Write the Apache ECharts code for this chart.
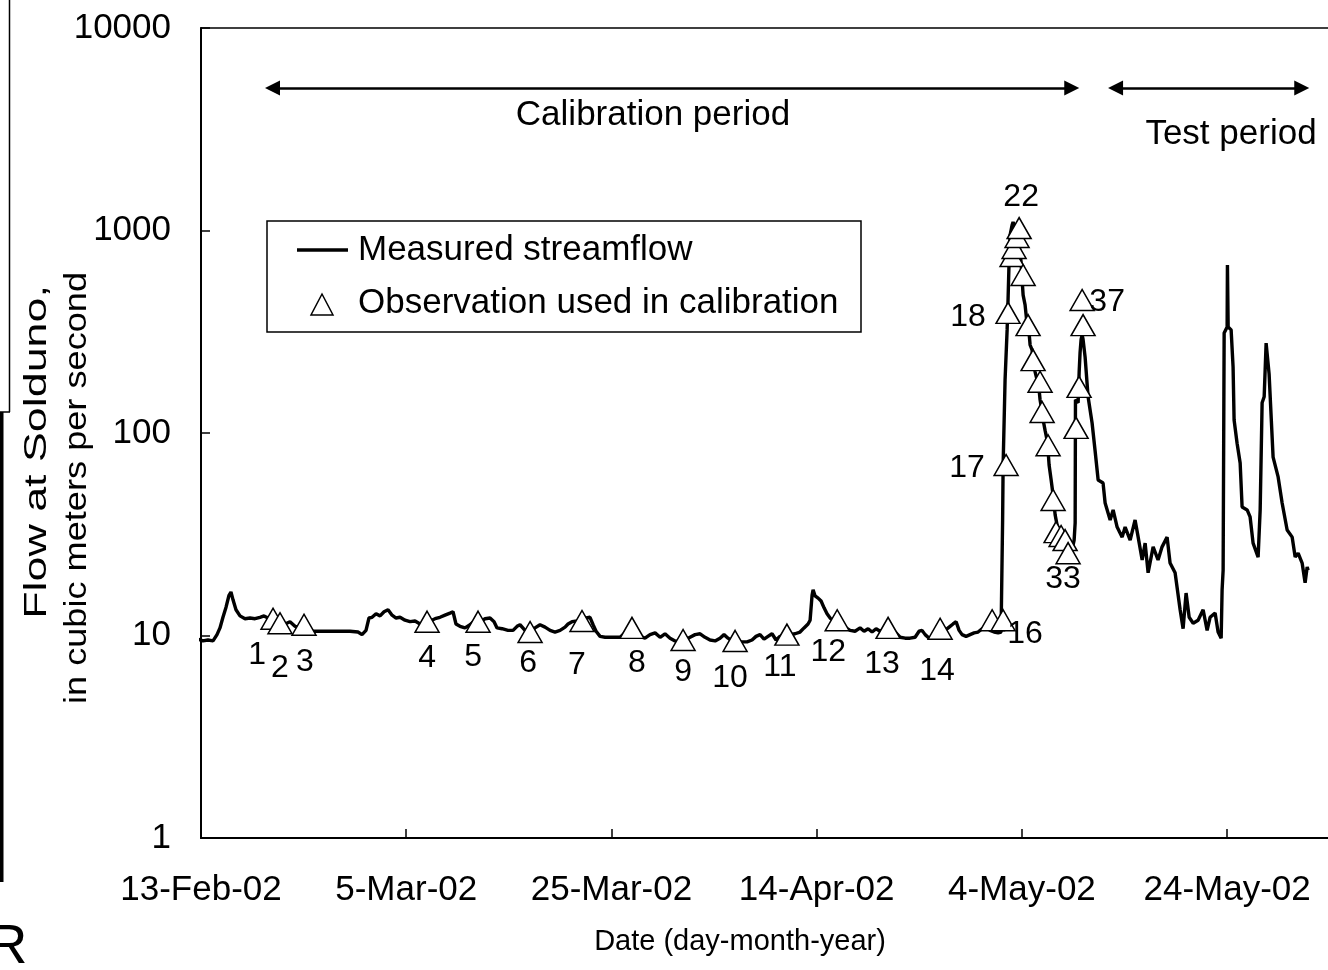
<!DOCTYPE html>
<html>
<head>
<meta charset="utf-8">
<script src="https://cdn.jsdelivr.net/npm/echarts@6.0.0/dist/echarts.min.js"></script>
<style>
  html, body { margin: 0; padding: 0; background: #fff; }
  #main { width: 1328px; height: 970px; }
</style>
</head>
<body>
<div id="main"></div>
<script>
// days since 13-Feb-02, flow in m3/s
var flowData = [
  [-1.27,9.7],[-0.78,9.5],[-0.29,9.6],[0.19,9.4],[0.68,9.5],[1.17,9.4],[1.56,10.1],[1.85,10.9],[2.14,12.3],[2.44,13.8],
  [2.73,15.8],[2.92,16.4],[3.12,15.0],[3.41,13.4],[3.80,12.5],[4.29,12.1],[4.78,12.2],[5.26,12.1],[5.75,12.3],[6.14,12.5],
  [6.53,12.2],[6.92,12.3],[7.31,11.9],[7.70,11.7],[8.19,11.4],[8.67,11.7],[9.16,11.1],[9.65,11.0],[10.14,10.8],[10.62,10.5],
  [12.57,10.5],[14.52,10.5],[15.30,10.4],[15.69,10.1],[16.08,10.6],[16.37,12.2],[16.67,12.3],[17.06,12.8],[17.45,12.5],[17.84,13.1],
  [18.23,13.4],[18.62,12.6],[19.01,12.2],[19.40,12.3],[19.88,11.9],[20.37,11.7],[20.86,11.8],[21.35,11.4],[21.83,11.7],[22.32,11.8],
  [22.81,12.1],[23.29,12.3],[23.78,12.6],[24.27,12.9],[24.56,13.1],[24.85,11.4],[25.24,11.1],[25.73,10.9],[26.22,11.3],[26.71,11.9],
  [27.19,11.7],[27.68,12.1],[28.17,12.2],[28.56,11.7],[28.85,10.9],[29.34,10.8],[29.92,10.6],[30.41,10.6],[30.80,11.1],[31.09,11.3],
  [31.58,10.6],[32.07,10.4],[32.55,10.9],[33.04,11.3],[33.53,11.0],[34.02,10.6],[34.50,10.4],[34.99,10.6],[35.48,11.0],[35.77,11.4],
  [36.16,11.7],[36.65,11.8],[37.13,11.9],[37.52,12.2],[37.91,12.3],[38.21,11.3],[38.50,10.5],[38.89,9.9],[39.38,9.8],[39.86,9.8],
  [40.35,9.8],[40.84,9.8],[41.33,10.3],[41.81,10.8],[42.30,10.5],[42.79,9.9],[43.27,9.7],[43.76,10.1],[44.25,10.3],[44.74,9.8],
  [45.22,10.2],[45.71,9.7],[46.20,9.4],[46.69,9.3],[47.17,9.5],[47.66,9.8],[48.15,10.1],[48.64,10.2],[49.12,9.8],[49.61,9.5],
  [50.10,9.4],[50.58,9.7],[50.97,10.1],[51.36,9.7],[51.75,9.4],[52.24,9.3],[52.73,9.3],[53.22,9.3],[53.70,9.5],[54.09,9.9],
  [54.48,10.1],[54.87,9.6],[55.26,9.9],[55.65,10.2],[56.04,9.5],[56.43,9.9],[56.92,10.2],[57.41,10.1],[57.89,10.2],[58.38,10.4],
  [58.77,10.9],[59.16,11.4],[59.36,11.9],[59.55,15.8],[59.65,16.8],[59.84,15.7],[60.14,15.3],[60.43,14.8],[60.72,13.7],[61.01,12.8],
  [61.31,12.2],[61.70,11.8],[62.09,11.7],[62.48,11.3],[62.87,10.9],[63.26,10.6],[63.74,10.5],[64.23,10.9],[64.62,10.5],[65.01,10.8],
  [65.40,10.4],[65.79,10.8],[66.18,10.5],[66.67,10.8],[67.15,10.6],[67.64,10.4],[68.13,9.8],[68.62,9.7],[69.10,9.7],[69.59,9.8],
  [69.98,10.5],[70.27,10.6],[70.57,10.1],[70.96,9.7],[71.54,9.8],[72.03,10.2],[72.51,10.6],[73.00,11.1],[73.29,11.4],[73.59,11.7],
  [73.88,10.6],[74.17,10.1],[74.56,9.9],[74.95,10.1],[75.34,10.3],[75.73,10.4],[76.12,10.8],[76.51,10.9],[76.90,10.6],[77.29,10.4],
  [77.68,10.3],[77.97,10.4],[78.07,10.4],[78.12,37],[78.17,69.5],[78.27,116],[78.36,183],[78.56,323],[78.65,454],[78.75,699],
  [78.85,950],[79.04,1060],[79.14,1100],[79.43,1005],[79.73,848],[79.92,699],[80.02,570],[80.12,480],[80.31,429],[80.41,383],
  [80.51,341],[80.70,312],[80.80,272],[80.99,257],[81.09,229],[81.29,200],[81.48,183],[81.68,163],[81.77,146],[81.97,127],
  [82.07,116],[82.26,103],[82.46,92],[82.55,82],[82.65,69.5],[82.85,58.6],[83.04,49.4],[83.14,44.1],[83.24,39.4],[83.43,35.1],
  [83.63,33.2],[83.92,31],[84.21,29.6],[84.50,28.0],[84.80,27.0],[84.99,28.0],[85.09,29.6],[85.19,36],[85.22,146],[85.48,141],
  [85.58,200],[85.67,250],[85.77,290],[85.87,305],[85.96,290],[86.16,237],[86.45,151],[86.84,112],[87.13,82],[87.43,58.6],
  [87.91,56.6],[88.11,45.1],[88.60,37.2],[88.89,41.7],[89.28,34.3],[89.77,30.6],[90.06,34.3],[90.55,29.6],[91.03,37.2],[91.33,30.6],
  [91.72,23.6],[92.01,28.6],[92.30,20.4],[92.79,27.4],[93.27,23.6],[93.66,27.4],[94.15,30.6],[94.44,22.8],[94.93,20.4],[95.42,13.4],
  [95.71,10.8],[96.00,16.2],[96.30,12.3],[96.69,11.5],[97.17,11.9],[97.66,13.4],[98.05,10.6],[98.34,12.3],[98.83,12.9],[99.12,10.4],
  [99.42,9.7],[99.51,16.8],[99.61,21.0],[99.71,312],[100.00,334],[100.03,675],[100.10,334],[100.39,323],[100.58,212],[100.68,116],
  [100.97,89],[101.27,71],[101.46,43.1],[101.95,41.7],[102.24,38.5],[102.53,28.6],[103.02,24.4],[103.22,41.7],[103.41,141],[103.61,151],
  [103.80,278],[103.95,278],[104.09,196],[104.48,76],[104.97,60.7],[105.36,45.1],[105.85,33.2],[106.34,30.6],[106.63,24.4],[106.92,25.5],
  [107.31,22.8],[107.60,18.2],[107.80,21.8],[107.89,21.0]
];

// observations used in calibration, numbered 1..37 in order
var obsData = [
  [7.02,12.1],[7.70,11.5],[10.04,11.3],[22.03,11.7],[27.0,11.7],[32.07,10.4],[37.13,11.8],[42.0,10.9],[46.98,9.5],[52.05,9.4],
  [57.1,10.1],[62.0,11.9],[66.96,10.9],[72.03,10.8],[77.1,11.9],[78.17,11.9],[78.46,69.5],[78.65,392],[79.04,748],[79.24,820],
  [79.53,929],[79.73,1028],[80.12,603],[80.6,341],[81.09,229],[81.77,179],[81.97,127],[82.55,87],[83.04,46.7],[83.33,32.4],
  [83.82,31],[84.21,29.6],[84.5,25.5],[85.28,106],[85.57,169],[85.96,341],[85.87,454]
];

var xTickLabels = ['13-Feb-02', '5-Mar-02', '25-Mar-02', '14-Apr-02', '4-May-02', '24-May-02'];

// period arrows: start day, end day, height (flow units)
var periodNames = ['Calibration period', 'Test period'];
var periodStart = [6.97, 89.13];
var periodEnd = [84.86, 107.27];
var periodLevel = 5055;

// which observation numbers get a label, and where the label sits (px from the marker)
var labelOffsets = {
  1: [-16, 36], 2: [0, 45], 3: [1, 37], 4: [0, 36], 5: [-5, 35], 6: [-2, 31], 7: [-5, 44],
  8: [5, 35], 9: [0, 32], 10: [-5, 37], 11: [-7, 33], 12: [-9, 32], 13: [-6, 36], 14: [-3, 42],
  16: [22, 14], 17: [-39, 3], 18: [-40, 4], 22: [2, -31], 33: [-5, 26], 37: [25, 2]
};

var FONT = '"Liberation Sans", Arial, sans-serif';

var myChart = echarts.init(document.getElementById('main'), null, { renderer: 'canvas' });

var obsItems = obsData.map(function (p, i) {
  var off = labelOffsets[i + 1];
  return {
    value: p,
    label: off ? { show: true, offset: off } : { show: false }
  };
});

var arrowData = periodNames.map(function (name, i) {
  return [{ coord: [periodStart[i], periodLevel] }, { coord: [periodEnd[i], periodLevel] }];
});

var option = {
  animation: false,
  backgroundColor: '#fff',
  grid: {
    left: 201,
    top: 28,
    bottom: 132,
    right: -12,
    show: true,
    borderColor: '#000',
    borderWidth: 1.3,
    containLabel: false,
    outerBoundsMode: 'none'
  },
  xAxis: {
    type: 'value',
    min: 0,
    max: 111,
    interval: 20,
    splitLine: { show: false },
    axisLine: { show: true, onZero: false, lineStyle: { color: '#000', width: 2 } },
    axisTick: { show: true, inside: true, length: 9, lineStyle: { color: '#000', width: 1.5 } },
    axisLabel: {
      color: '#000',
      fontSize: 35,
      fontFamily: FONT,
      margin: 35,
      showMaxLabel: false,
      formatter: function (v) {
        return (v % 20 === 0 && v <= 100) ? xTickLabels[v / 20] : '';
      }
    },
    name: 'Date (day-month-year)',
    nameLocation: 'middle',
    nameGap: 89,
    nameTextStyle: { color: '#000', fontSize: 29, fontFamily: FONT, padding: [0, 61, 0, 0] }
  },
  yAxis: {
    type: 'log',
    logBase: 10,
    min: 1,
    max: 10000,
    splitLine: { show: false },
    minorTick: { show: false },
    axisLine: { show: true, lineStyle: { color: '#000', width: 2 } },
    axisTick: { show: true, inside: true, length: 9, lineStyle: { color: '#000', width: 1.5 } },
    axisLabel: {
      color: '#000',
      fontSize: 35,
      fontFamily: FONT,
      margin: 30,
      formatter: function (v) { return String(Math.round(v)); }
    }
  },
  series: [
    {
      name: 'Measured streamflow',
      type: 'line',
      data: flowData,
      symbol: 'none',
      showSymbol: false,
      clip: false,
      lineStyle: { color: '#000', width: 3.4 },
      z: 2,
      markLine: {
        silent: true,
        symbol: ['triangle', 'triangle'],
        symbolSize: [15, 15],
        lineStyle: { color: '#000', width: 2.5, type: 'solid' },
        itemStyle: { color: '#000' },
        label: { show: false },
        data: arrowData
      }
    },
    {
      name: 'Observation used in calibration',
      type: 'scatter',
      data: obsItems,
      symbol: 'triangle',
      symbolSize: [24, 21],
      itemStyle: { color: '#fff', borderColor: '#000', borderWidth: 1.5, opacity: 1 },
      label: {
        position: 'inside',
        color: '#000',
        fontSize: 32,
        fontFamily: FONT,
        formatter: function (p) { return String(p.dataIndex + 1); }
      },
      z: 3
    }
  ],
  graphic: [
    // legend box
    { type: 'rect', shape: { x: 267, y: 221, width: 594, height: 111 },
      style: { fill: '#fff', stroke: '#000', lineWidth: 1.5 }, z: 100 },
    { type: 'line', shape: { x1: 297, y1: 250, x2: 348, y2: 250 },
      style: { stroke: '#000', lineWidth: 3.5 }, z: 101 },
    { type: 'polygon', shape: { points: [[322, 294], [333, 315], [311, 315]] },
      style: { fill: '#fff', stroke: '#000', lineWidth: 1.5 }, z: 101 },
    { type: 'text', x: 358, y: 250, z: 101,
      style: { text: 'Measured streamflow', fontSize: 35, fontFamily: FONT, fill: '#000', align: 'left', verticalAlign: 'middle' } },
    { type: 'text', x: 358, y: 303, z: 101,
      style: { text: 'Observation used in calibration', fontSize: 35, fontFamily: FONT, fill: '#000', align: 'left', verticalAlign: 'middle' } },
    // period captions
    { type: 'text', x: 653, y: 115, z: 101,
      style: { text: periodNames[0], fontSize: 35, fontFamily: FONT, fill: '#000', align: 'center', verticalAlign: 'middle' } },
    { type: 'text', x: 1231, y: 134, z: 101,
      style: { text: periodNames[1], fontSize: 35, fontFamily: FONT, fill: '#000', align: 'center', verticalAlign: 'middle' } },
    // y axis title, two lines
    { type: 'text', x: 37, y: 452, rotation: Math.PI / 2, scaleX: 1.4, z: 101,
      style: { text: 'Flow at Solduno,', fontSize: 32, fontFamily: FONT, fill: '#000', align: 'center', verticalAlign: 'middle' } },
    { type: 'text', x: 77, y: 488, rotation: Math.PI / 2, scaleX: 1.13, z: 101,
      style: { text: 'in cubic meters per second', fontSize: 32, fontFamily: FONT, fill: '#000', align: 'center', verticalAlign: 'middle' } },
    // bits of the neighbouring page at the left edge
    { type: 'line', shape: { x1: 9.5, y1: 0, x2: 9.5, y2: 412 }, style: { stroke: '#000', lineWidth: 1.5 } },
    { type: 'line', shape: { x1: 0, y1: 412, x2: 10, y2: 412 }, style: { stroke: '#000', lineWidth: 1.5 } },
    { type: 'rect', shape: { x: 0, y: 412, width: 3.5, height: 470 }, style: { fill: '#000' } },
    { type: 'text', x: -13, y: 976, style: { text: 'R', fontSize: 56, fontFamily: FONT, fill: '#000', align: 'left', verticalAlign: 'bottom' } }
  ]
};

myChart.setOption(option);
</script>
</body>
</html>
